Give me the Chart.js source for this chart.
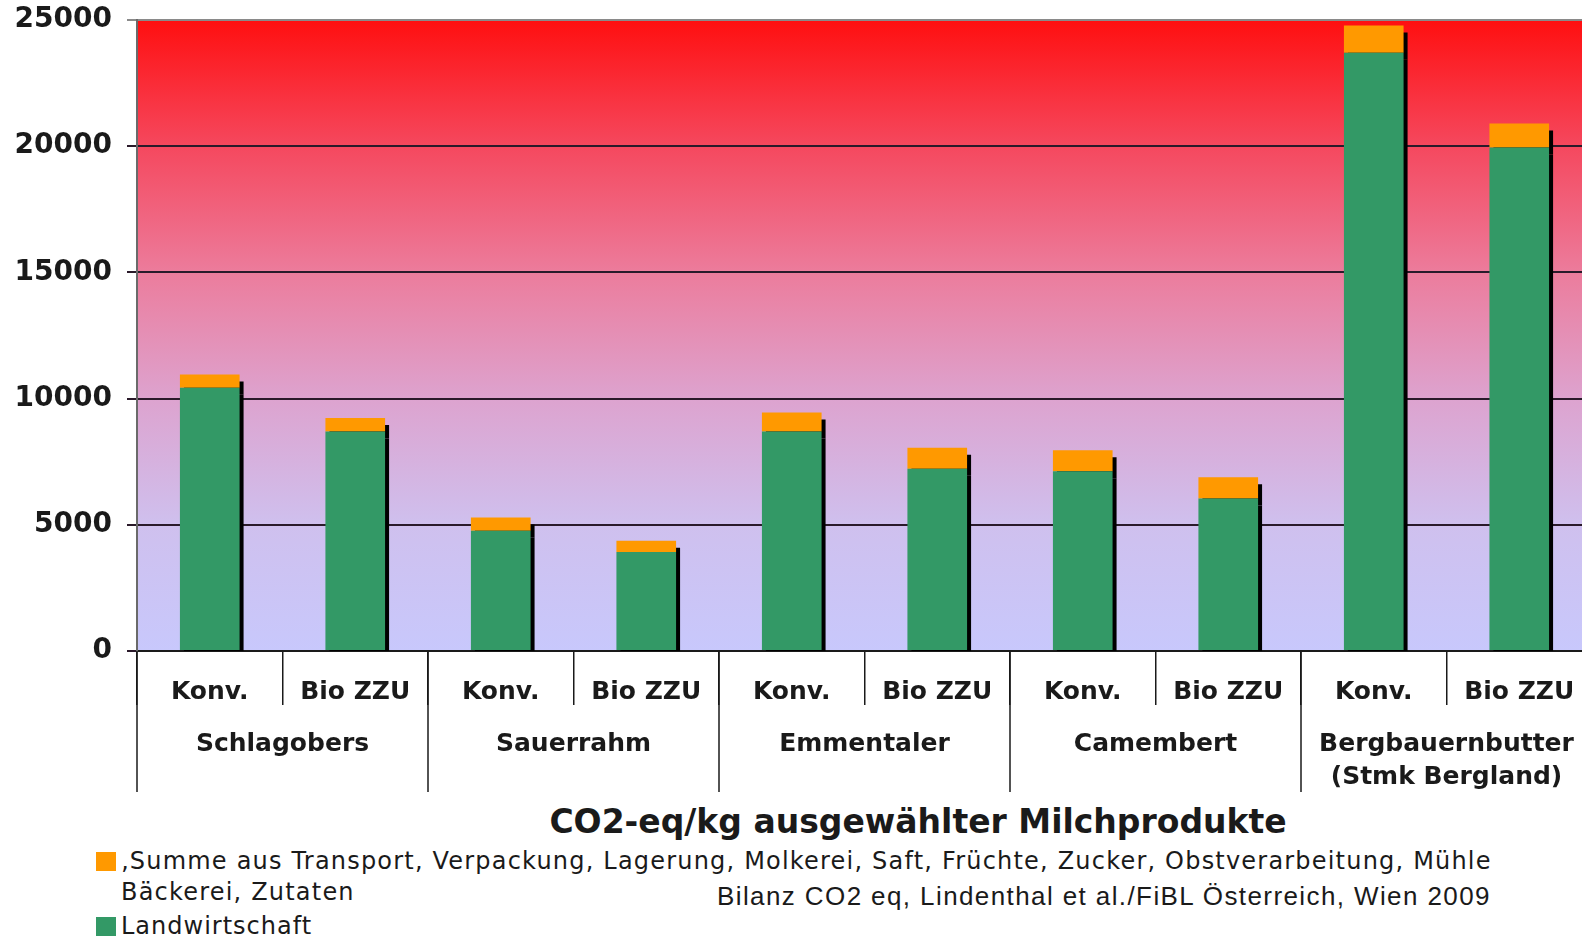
<!DOCTYPE html>
<html>
<head>
<meta charset="utf-8">
<script src="https://cdn.jsdelivr.net/npm/chart.js@4/dist/chart.umd.min.js"></script>
<style>
  body { margin: 0; background: #fff; overflow: hidden; }
  #wrap { position: relative; width: 1582px; height: 940px; overflow: hidden; font-family: "DejaVu Sans", sans-serif; color: #1a1a1a; }
  #myChart { position: absolute; left: 0; top: 0; }
  .txt { position: absolute; white-space: nowrap; }
  .box { position: absolute; width: 20px; height: 19px; }
</style>
</head>
<body>
<div id="wrap">
  <canvas id="myChart" width="1592" height="800"></canvas>
  <div class="txt" id="title" style="left:918px; top:802px; transform:translateX(-50%); font-size:33px; font-weight:bold; line-height:40px;">CO2-eq/kg ausgewählter Milchprodukte</div>
  <div class="box" style="left:96px; top:852px; background:#ff9900;"></div>
  <div class="txt" style="left:121px; top:846px; font-size:24px; letter-spacing:1.2px; line-height:31px;">‚Summe aus Transport, Verpackung, Lagerung, Molkerei, Saft, Früchte, Zucker, Obstverarbeitung, Mühle<br>Bäckerei, Zutaten</div>
  <div class="box" style="left:96px; top:917px; background:#339966;"></div>
  <div class="txt" style="left:121px; top:911px; font-size:24px; letter-spacing:1px; line-height:30px;">Landwirtschaft</div>
  <div class="txt" style="left:717px; top:881px; font-family:'Liberation Sans', Arial, sans-serif; font-size:26px; letter-spacing:1.4px; line-height:30px;">Bilanz CO2 eq, Lindenthal et al./FiBL Österreich, Wien 2009</div>
</div>
<script>
// categories
let subLabels = ['Konv.', 'Bio ZZU', 'Konv.', 'Bio ZZU', 'Konv.', 'Bio ZZU', 'Konv.', 'Bio ZZU', 'Konv.', 'Bio ZZU'];
let groups = [['Schlagobers'], ['Sauerrahm'], ['Emmentaler'], ['Camembert'], ['Bergbauernbutter', '(Stmk Bergland)']];

// values (g CO2-eq/kg)
let landwirtschaft = [10430, 8700, 4760, 3920, 8700, 7220, 7120, 6040, 23700, 19950];
let verarbeitung = [520, 530, 530, 450, 750, 830, 830, 840, 1080, 950];

let yMin = 0, yMax = 25000, yStep = 5000;

// background gradient red -> lavender
let bgPlugin = {
  id: 'bg',
  beforeDraw(chart) {
    let a = chart.chartArea, ctx = chart.ctx;
    let g = ctx.createLinearGradient(0, a.top, 0, a.bottom);
    g.addColorStop(0, '#ff0f10');
    g.addColorStop(0.2, '#f5485e');
    g.addColorStop(0.4, '#ec7c9c');
    g.addColorStop(0.6, '#dda3cf');
    g.addColorStop(0.8, '#cfc0ee');
    g.addColorStop(1, '#c8c8fc');
    ctx.save();
    ctx.fillStyle = g;
    ctx.fillRect(a.left, a.top, a.right - a.left, a.bottom - a.top);
    ctx.restore();
  }
};

// hard black drop shadow on the bars
let shadowPlugin = {
  id: 'barShadow',
  beforeDatasetsDraw(chart) {
    let ctx = chart.ctx;
    ctx.save();
    ctx.shadowColor = '#000';
    ctx.shadowOffsetX = 4;
    ctx.shadowOffsetY = 7;
    ctx.shadowBlur = 0;
  },
  afterDatasetsDraw(chart) {
    chart.ctx.restore();
  }
};

// group labels and long separators under the x axis
let groupPlugin = {
  id: 'groups',
  afterDraw(chart) {
    let x = chart.scales.x, ctx = chart.ctx;
    let half = (x.getPixelForValue(1) - x.getPixelForValue(0)) / 2;
    let base = chart.chartArea.bottom;
    ctx.save();
    ctx.strokeStyle = '#1a1a1a';
    ctx.lineWidth = 1.5;
    ctx.fillStyle = '#1a1a1a';
    ctx.font = 'bold 25px "DejaVu Sans"';
    ctx.textAlign = 'center';
    ctx.textBaseline = 'middle';
    groups.forEach((g, i) => {
      let left = x.getPixelForValue(i * 2) - half;
      let right = x.getPixelForValue(i * 2 + 1) + half;
      ctx.beginPath();
      ctx.moveTo(left, base);
      ctx.lineTo(left, base + 141);
      ctx.stroke();
      g.forEach((line, k) => {
        ctx.fillText(line, (left + right) / 2, base + 93 + k * 33);
      });
    });
    ctx.restore();
  }
};

let myChart = document.getElementById('myChart').getContext('2d');
let chart = new Chart(myChart, {
  type: 'bar',
  data: {
    labels: subLabels,
    datasets: [{
      label: 'Landwirtschaft',
      data: landwirtschaft,
      backgroundColor: '#339966'
    }, {
      label: ',Summe aus Transport, Verpackung, Lagerung, Molkerei, Saft, Früchte, Zucker, Obstverarbeitung, Mühle Bäckerei, Zutaten',
      data: verarbeitung,
      backgroundColor: '#ff9900'
    }]
  },
  options: {
    responsive: false,
    animation: false,
    layout: { padding: 0 },
    datasets: { bar: { categoryPercentage: 1, barPercentage: 0.41 } },
    plugins: {
      legend: { display: false },
      title: { display: false },
      tooltip: { enabled: false }
    },
    scales: {
      x: {
        stacked: true,
        afterFit(scale) { scale.height = 149; },
        grid: {
          offset: true,
          drawOnChartArea: false,
          drawTicks: true,
          tickLength: 54,
          color: '#1a1a1a',
          lineWidth: 1.5
        },
        border: { display: true, color: '#1a1a1a', width: 2 },
        ticks: {
          padding: -28,
          color: '#1a1a1a',
          maxRotation: 0,
          autoSkip: false,
          font: { family: 'DejaVu Sans', size: 25, weight: 'bold' }
        }
      },
      y: {
        stacked: true,
        min: yMin,
        max: yMax,
        afterFit(scale) {
          scale.width = 137;
          scale.paddingTop = 20;
          scale.paddingBottom = 0;
        },
        grid: {
          color: (c) => c.tick && c.tick.value === yMax ? '#8a8a8a' : '#2a1a2a',
          lineWidth: 2,
          tickLength: 10
        },
        border: { display: true, color: '#6a6a6a', width: 2 },
        ticks: {
          stepSize: yStep,
          padding: 15,
          color: '#1a1a1a',
          callback: (v) => String(v),
          font: { family: 'DejaVu Sans', size: 28, weight: 'bold' }
        }
      }
    }
  },
  plugins: [bgPlugin, shadowPlugin, groupPlugin]
});
</script>
</body>
</html>
